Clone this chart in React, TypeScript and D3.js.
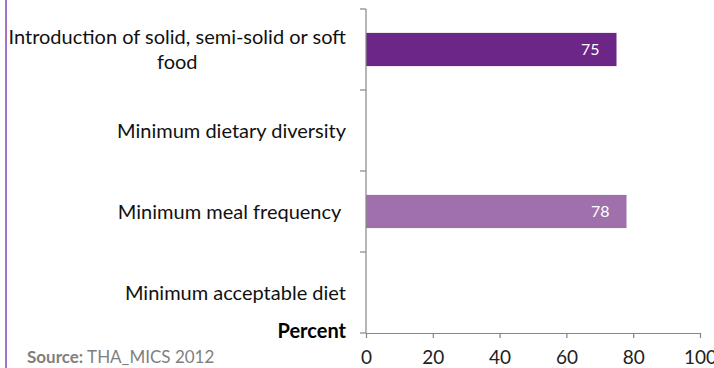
import { useEffect, useRef } from 'react';
import * as d3 from 'd3';

// indicator rows, top to bottom
const categories = [
  'Introduction of solid, semi-solid or soft food',
  'Minimum dietary diversity',
  'Minimum meal frequency ',
  'Minimum acceptable diet',
];
const values: (number | null)[] = [75, null, 78, null];
const barColors = ['#6B2688', '#A070AC', '#A070AC', '#A070AC'];
const xTicks = [0, 20, 40, 60, 80, 100];

export default function App() {
  const svgRef = useRef<SVGSVGElement>(null);

  useEffect(() => {
    if (!svgRef.current) return;
    const svg = d3.select(svgRef.current);
    svg.selectAll('*').remove();

    const width = 714;
    const height = 368;
    const left = 366;
    const right = 700;
    const top = 9;
    const bottom = 333;
    const font = 'Lato, "Open Sans", sans-serif';
    const labelSize = 20;
    const axisColor = '#868686';

    svg.append('rect').attr('width', width).attr('height', height).attr('fill', '#fff');

    // purple frame line on the left
    svg.append('line')
      .attr('x1', 6).attr('x2', 6).attr('y1', 0).attr('y2', height)
      .attr('stroke', '#9F73C9').attr('stroke-width', 2);

    const x = d3.scaleLinear().domain([0, 100]).range([left, right]);
    const y = d3.scaleBand<string>()
      .domain(categories)
      .range([top, bottom])
      .paddingInner(0.59)
      .paddingOuter(0.295);
    const step = y.step();

    // bars
    categories.forEach((c, i) => {
      const v = values[i];
      if (v == null) return;
      svg.append('rect')
        .attr('x', x(0))
        .attr('y', y(c)!)
        .attr('width', x(v) - x(0))
        .attr('height', y.bandwidth())
        .attr('fill', barColors[i]);
      svg.append('text')
        .attr('x', x(v) - 17)
        .attr('y', y(c)! + y.bandwidth() / 2)
        .attr('dy', '0.35em')
        .attr('text-anchor', 'end')
        .attr('font-family', font)
        .attr('font-size', 16)
        .attr('fill', '#fff')
        .text(String(v));
    });

    // y axis line + ticks at band edges
    svg.append('line')
      .attr('x1', left).attr('x2', left).attr('y1', top).attr('y2', bottom)
      .attr('stroke', axisColor).attr('stroke-width', 1.2);
    d3.range(categories.length + 1).forEach((k) => {
      const ty = top + k * step;
      svg.append('line')
        .attr('x1', left - 6).attr('x2', left).attr('y1', ty).attr('y2', ty)
        .attr('stroke', axisColor).attr('stroke-width', 1.2);
    });

    // x axis
    const xAxis = svg.append('g')
      .attr('transform', `translate(0,${bottom})`)
      .call(d3.axisBottom(x).tickValues(xTicks).tickSize(5).tickSizeOuter(0).tickFormat((d) => String(d)));
    xAxis.select('.domain').attr('stroke', axisColor).attr('stroke-width', 1.2);
    xAxis.selectAll('.tick line').attr('stroke', axisColor).attr('stroke-width', 1.2);
    xAxis.selectAll('.tick text')
      .attr('y', 31)
      .attr('dy', 0)
      .attr('font-family', font)
      .attr('font-size', 19)
      .attr('fill', '#222');

    // category labels, wrapped and right-aligned as a block
    const labelRight = 346;
    const maxW = 345;
    const lineH = 25;
    categories.forEach((c) => {
      const g = svg.append('g');
      const words = c.trim().split(' ');
      const probe = g.append('text')
        .attr('font-family', font).attr('font-size', labelSize)
        .style('white-space', 'pre');
      const lines: string[] = [];
      let cur = '';
      words.forEach((w) => {
        const test = cur ? `${cur} ${w}` : w;
        probe.text(test);
        if ((probe.node() as SVGTextElement).getComputedTextLength() > maxW && cur) {
          lines.push(cur);
          cur = w;
        } else {
          cur = test;
        }
      });
      lines.push(cur);
      if (c.endsWith(' ')) lines[lines.length - 1] += ' ';
      const widths = lines.map((l) => {
        probe.text(l);
        return (probe.node() as SVGTextElement).getComputedTextLength();
      });
      probe.remove();
      const blockW = d3.max(widths)!;
      const cx = labelRight - blockW / 2;
      const cy = y(c)! + y.bandwidth() / 2;
      lines.forEach((l, j) => {
        g.append('text')
          .attr('x', cx)
          .attr('y', cy + (j - (lines.length - 1) / 2) * lineH)
          .attr('dy', '0.35em')
          .attr('text-anchor', 'middle')
          .attr('font-family', font)
          .attr('font-size', labelSize)
          .attr('fill', '#111')
          .style('white-space', 'pre')
          .text(l);
      });
    });

    // axis title
    svg.append('text')
      .attr('x', labelRight)
      .attr('y', 331)
      .attr('dy', '0.35em')
      .attr('text-anchor', 'end')
      .attr('font-family', font)
      .attr('font-size', 20)
      .attr('font-weight', 'bold')
      .attr('fill', '#000')
      .text('Percent');

    // source note
    const src = svg.append('text')
      .attr('x', 27)
      .attr('y', 363)
      .attr('font-family', font)
      .attr('font-size', 17)
      .attr('fill', '#7F7F7F');
    src.append('tspan').attr('font-weight', 'bold').text('Source:');
    src.append('tspan').text(' THA_MICS 2012');
  }, []);

  return (
    <div style={{ position: 'absolute', left: 0, top: 0 }}>
      <svg ref={svgRef} width={714} height={368} style={{ display: 'block' }} />
    </div>
  );
}
